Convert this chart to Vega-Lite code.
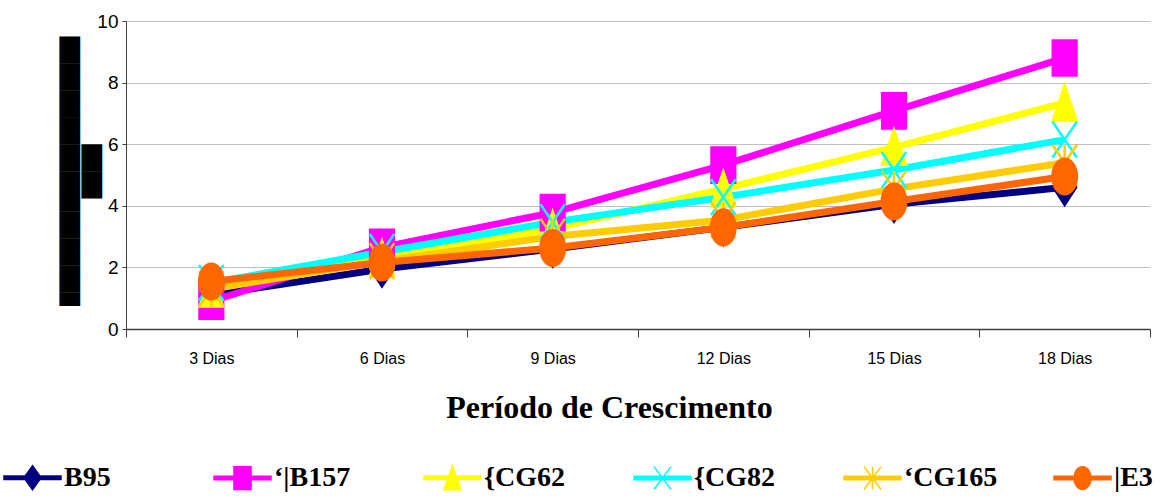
{
  "$schema": "https://vega.github.io/schema/vega-lite/v6.json",
  "width": 1024,
  "height": 308,
  "autosize": {"type": "none"},
  "padding": {"left": 126, "top": 21, "right": 15, "bottom": 173},
  "background": "white",
  "config": {"view": {"stroke": null}},
  "data": {"values": [
    {"dia": "3 Dias", "series": "B95", "v": 1.1},
    {"dia": "6 Dias", "series": "B95", "v": 1.95},
    {"dia": "9 Dias", "series": "B95", "v": 2.6},
    {"dia": "12 Dias", "series": "B95", "v": 3.3},
    {"dia": "15 Dias", "series": "B95", "v": 4.05},
    {"dia": "18 Dias", "series": "B95", "v": 4.6},
    {"dia": "3 Dias", "series": "‘|B157", "v": 0.9},
    {"dia": "6 Dias", "series": "‘|B157", "v": 2.65},
    {"dia": "9 Dias", "series": "‘|B157", "v": 3.78},
    {"dia": "12 Dias", "series": "‘|B157", "v": 5.32},
    {"dia": "15 Dias", "series": "‘|B157", "v": 7.08},
    {"dia": "18 Dias", "series": "‘|B157", "v": 8.8},
    {"dia": "3 Dias", "series": "{CG62", "v": 1.3},
    {"dia": "6 Dias", "series": "{CG62", "v": 2.3},
    {"dia": "9 Dias", "series": "{CG62", "v": 3.25},
    {"dia": "12 Dias", "series": "{CG62", "v": 4.55},
    {"dia": "15 Dias", "series": "{CG62", "v": 5.9},
    {"dia": "18 Dias", "series": "{CG62", "v": 7.34},
    {"dia": "3 Dias", "series": "{CG82", "v": 1.5},
    {"dia": "6 Dias", "series": "{CG82", "v": 2.5},
    {"dia": "9 Dias", "series": "{CG82", "v": 3.47},
    {"dia": "12 Dias", "series": "{CG82", "v": 4.28},
    {"dia": "15 Dias", "series": "{CG82", "v": 5.16},
    {"dia": "18 Dias", "series": "{CG82", "v": 6.15},
    {"dia": "3 Dias", "series": "‘CG165", "v": 1.3},
    {"dia": "6 Dias", "series": "‘CG165", "v": 2.2},
    {"dia": "9 Dias", "series": "‘CG165", "v": 3.0},
    {"dia": "12 Dias", "series": "‘CG165", "v": 3.54},
    {"dia": "15 Dias", "series": "‘CG165", "v": 4.55},
    {"dia": "18 Dias", "series": "‘CG165", "v": 5.4},
    {"dia": "3 Dias", "series": "|E3", "v": 1.54},
    {"dia": "6 Dias", "series": "|E3", "v": 2.16},
    {"dia": "9 Dias", "series": "|E3", "v": 2.63},
    {"dia": "12 Dias", "series": "|E3", "v": 3.3},
    {"dia": "15 Dias", "series": "|E3", "v": 4.14},
    {"dia": "18 Dias", "series": "|E3", "v": 4.95}
  ]},
  "encoding": {
    "x": {
      "field": "dia", "type": "ordinal", "bandPosition": 0.5,
      "sort": ["3 Dias", "6 Dias", "9 Dias", "12 Dias", "15 Dias", "18 Dias"],
      "scale": {"type": "band", "paddingInner": 0, "paddingOuter": 0},
      "axis": {
        "title": "Período de Crescimento",
        "titleFont": "Liberation Serif", "titleFontSize": 32, "titleFontWeight": "bold", "titleColor": "black",
        "titlePadding": 26, "titleX": 483, "titleAlign": "center",
        "labelAngle": 0, "labelFont": "Liberation Sans Narrow, Liberation Sans", "labelFontSize": 16, "labelColor": "black",
        "labelPadding": 13,
        "tickBand": "extent", "tickSize": 8, "tickColor": "#404040", "domainColor": "#404040", "domainWidth": 1.5,
        "grid": false
      }
    },
    "y": {
      "field": "v", "type": "quantitative",
      "scale": {"domain": [0, 10], "nice": false},
      "axis": {
        "values": [0, 2, 4, 6, 8, 10],
        "title": ["████████████████████", "████\u00a0\u00a0"],
        "titleFont": "DejaVu Sans", "titleFontSize": 17.5, "titleColor": "black", "titleFontWeight": "normal",
        "titleLineHeight": 22.5, "titleAngle": -90, "titleAlign": "center", "titleBaseline": "top",
        "titleX": -65, "titleY": 150,
        "labelFont": "Liberation Sans", "labelFontSize": 19, "labelColor": "black", "labelPadding": 4,
        "tickSize": 4, "tickColor": "#404040", "domainColor": "#404040",
        "gridColor": "#c0c0c0", "gridWidth": 1,
        "encode": {"title": {"update": {"stroke": {"value": "black"}, "strokeWidth": {"value": 1.5}}}}
      }
    }
  },
  "layer": [
    {
      "mark": {"type": "line", "strokeWidth": 7},
      "encoding": {
        "color": {
          "field": "series", "type": "nominal",
          "scale": {
            "domain": ["B95", "‘|B157", "{CG62", "{CG82", "‘CG165", "|E3"],
            "range": ["#000080", "#FF00FF", "#FFFF00", "#00FFFF", "#FFCC00", "#FF6600"]
          },
          "legend": {
            "title": null, "orient": "none", "legendX": -123, "legendY": 427,
            "direction": "horizontal", "columns": 6, "gridAlign": "all", "columnPadding": 53,
            "symbolSize": 3249, "labelFont": "Liberation Serif", "labelFontSize": 28, "labelFontWeight": "bold",
            "labelColor": "black", "labelOffset": 2, "labelLimit": 300,
            "encode": {
              "symbols": {
                "update": {
                  "shape": {"signal": "['M-1,-0.06H1V0.06H-1ZM0,-0.42L0.3,0L0,0.42L-0.3,0Z','M-1,-0.06H1V0.06H-1ZM-0.3,-0.4H0.3V0.4H-0.3Z','M-1,-0.06H1V0.06H-1ZM0,-0.42L0.3,0.42H-0.3Z','M-1,-0.06H1V0.06H-1ZM-0.3,-0.4L0.3,0.4M0.3,-0.4L-0.3,0.4','M-1,-0.06H1V0.06H-1ZM-0.3,-0.4L0.3,0.4M0.3,-0.4L-0.3,0.4M0,-0.4V0.4','M-1,-0.06H1V0.06H-1ZM-0.3,0A0.3,0.4,0,1,1,0.3,0A0.3,0.4,0,1,1,-0.3,0Z'][indexof(domain('color'), datum.value)]"},
                  "size": {"value": 3249},
                  "fill": {"signal": "scale('color', datum.value)"},
                  "stroke": {"signal": "scale('color', datum.value)"},
                  "strokeWidth": {"value": 1.5},
                  "opacity": {"value": 1},
                  "fillOpacity": {"value": 1}
                }
              }
            }
          }
        }
      }
    },
    {
      "transform": [{"filter": "datum.series === 'B95'"}],
      "mark": {"type": "point", "filled": true, "opacity": 1, "strokeWidth": 2.5, "size": 1369, "color": "#000080", "stroke": "#000080",
        "shape": "M0,-0.95L0.62,0L0,0.95L-0.62,0Z"}
    },
    {
      "transform": [{"filter": "datum.series === '‘|B157'"}],
      "mark": {"type": "point", "filled": true, "opacity": 1, "strokeWidth": 2.5, "size": 1369, "color": "#FF00FF", "stroke": "#FF00FF",
        "shape": "M-0.64,-0.95L0.64,-0.95L0.64,0.95L-0.64,0.95Z"}
    },
    {
      "transform": [{"filter": "datum.series === '{CG62'"}],
      "mark": {"type": "point", "filled": true, "opacity": 1, "strokeWidth": 2.5, "size": 1369, "color": "#FFFF00", "stroke": "#FFFF00",
        "shape": "M0,-0.95L0.64,0.95L-0.64,0.95Z"}
    },
    {
      "transform": [{"filter": "datum.series === '{CG82'"}],
      "mark": {"type": "point", "filled": true, "opacity": 1, "strokeWidth": 2.5, "size": 1369, "color": "#00FFFF", "stroke": "#00FFFF",
        "shape": "M-0.66,-0.97L0.66,0.97M0.66,-0.97L-0.66,0.97"}
    },
    {
      "transform": [{"filter": "datum.series === '‘CG165'"}],
      "mark": {"type": "point", "filled": true, "opacity": 1, "strokeWidth": 2.5, "size": 1369, "color": "#FFCC00", "stroke": "#FFCC00",
        "shape": "M-0.66,-0.97L0.66,0.97M0.66,-0.97L-0.66,0.97M0,-0.97L0,0.97"}
    },
    {
      "transform": [{"filter": "datum.series === '|E3'"}],
      "mark": {"type": "point", "filled": true, "opacity": 1, "strokeWidth": 2.5, "size": 1369, "color": "#FF6600", "stroke": "#FF6600",
        "shape": "M-0.66,0A0.66,0.96,0,1,1,0.66,0A0.66,0.96,0,1,1,-0.66,0Z"}
    }
  ]
}
